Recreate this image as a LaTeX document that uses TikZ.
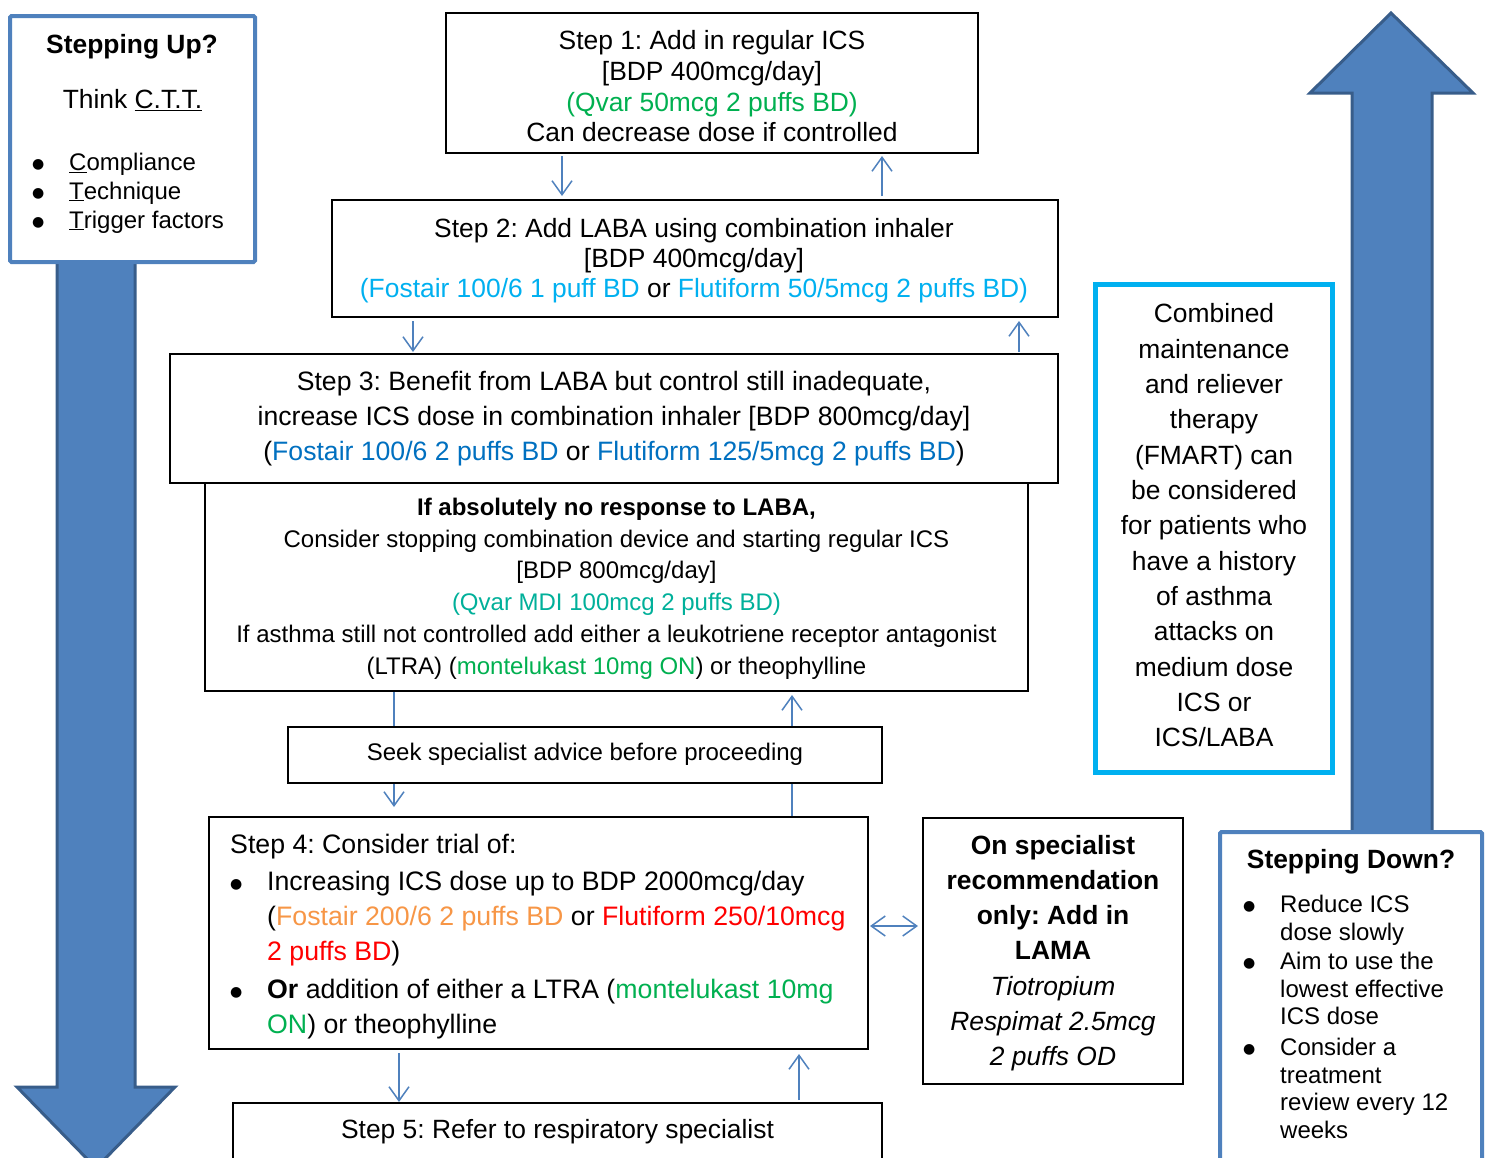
\documentclass[tikz,border=0pt]{standalone}
\usepackage{fontspec}
\setmainfont{Liberation Sans}
\newfontfamily\symfont{DejaVu Sans}
\usetikzlibrary{arrows.meta}
\definecolor{cblue}{HTML}{4F81BD}
\definecolor{cdark}{HTML}{385D8A}
\definecolor{ccyan}{HTML}{00B0F0}
\definecolor{cgreen}{HTML}{00B050}
\definecolor{cblueb}{HTML}{0070C0}
\definecolor{corange}{HTML}{F79646}
\definecolor{cred}{HTML}{FF0000}
\definecolor{cteal}{HTML}{00B09A}
\newcommand{\bul}{\raisebox{2.2pt}[0pt][0pt]{\symfont\fontsize{14pt}{14pt}\selectfont ●}}
\begin{document}
\frenchspacing
\begin{tikzpicture}[x=1pt,y=-1pt,
  box/.style={draw=black,line width=2pt,fill=white,inner sep=0pt,rectangle},
  sidebox/.style={draw=cblue,line width=4pt,fill=white,inner sep=0pt,rectangle,rounded corners=1.5pt},
  fmbox/.style={draw=ccyan,line width=5pt,fill=white,inner sep=0pt,rectangle},
  bigarrow/.style={fill=cblue,draw=cdark,line width=3pt,line join=miter},
  conn/.style={draw=cblue,line width=1.5pt},
  arr/.style={conn,-{Straight Barb[length=14pt,width=20pt]}},
  darr/.style={conn,{Straight Barb[length=14pt,width=20pt]}-{Straight Barb[length=14pt,width=20pt]}},
  txt/.style={inner sep=0pt,align=center},
]
\useasboundingbox (0,0) rectangle (1489,1157);
\clip (0,0) rectangle (1489,1157);

% big arrows
\draw[bigarrow] (57,250) -- (135,250) -- (135,1087) -- (175,1087) -- (96,1168) -- (17,1087) -- (57,1087) -- cycle;
\draw[bigarrow] (1352,845) -- (1352,93) -- (1310,93) -- (1391,13) -- (1473,93) -- (1432,93) -- (1432,845) -- cycle;

% side boxes
\node[sidebox,minimum width=245pt,minimum height=246pt] (up) at (132.5,139) {};
\node[txt,font=\bfseries\fontsize{26.4pt}{30pt}\selectfont] (uptitle) at (132,46.5) {Stepping Up?};
\node[txt,font=\fontsize{26.4pt}{30pt}\selectfont] (upthink) at (132.5,100) {Think \underline{C.T.T.}};
\node[txt,align=left,anchor=west,font=\fontsize{24pt}{29pt}\selectfont] (uplist) at (32,193) {%
\makebox[37pt][l]{\bul}\underline{C}ompliance\\
\makebox[37pt][l]{\bul}\underline{T}echnique\\
\makebox[37pt][l]{\bul}\underline{T}rigger factors};

\node[sidebox,minimum width=262pt,minimum height=338pt] (down) at (1351,1001) {};
\node[txt,font=\bfseries\fontsize{26.4pt}{30pt}\selectfont] (downtitle) at (1351,862) {Stepping Down?};
\node[txt,align=left,anchor=west,font=\fontsize{24pt}{27.6pt}\selectfont] (downlist) at (1243,1017) {%
\makebox[37pt][l]{\bul}Reduce ICS\\
\hspace*{37pt}dose slowly\\[1.5pt]
\makebox[37pt][l]{\bul}Aim to use the\\
\hspace*{37pt}lowest effective\\
\hspace*{37pt}ICS dose\\[3pt]
\makebox[37pt][l]{\bul}Consider a\\
\hspace*{37pt}treatment\\
\hspace*{37pt}review every 12\\
\hspace*{37pt}weeks};

\node[fmbox,minimum width=237pt,minimum height=488pt] (fm) at (1214,528) {};
\node[txt,font=\fontsize{26.4pt}{35.33pt}\selectfont] (fmt) at (1214,525.5) {Combined\\maintenance\\and reliever\\therapy\\(FMART) can\\be considered\\for patients who\\have a history\\of asthma\\attacks on\\medium dose\\ICS or\\ICS/LABA};

% step boxes
\node[box,minimum width=532pt,minimum height=140pt] (s1) at (712,83) {};
\node[txt,font=\fontsize{26.4pt}{30.67pt}\selectfont] (s1t) at (712,86.5) {Step 1: Add in regular ICS\\{[}BDP 400mcg/day{]}\\\textcolor{cgreen}{(Qvar 50mcg 2 puffs BD)}\\Can decrease dose if controlled};

\node[box,minimum width=726pt,minimum height=117pt] (s2) at (695,258.5) {};
\node[txt,font=\fontsize{26.4pt}{30pt}\selectfont] (s2t) at (694,260.5) {Step 2: Add LABA using combination inhaler\\{[}BDP 400mcg/day{]}\\\textcolor{ccyan}{(Fostair 100/6 1 puff BD} or \textcolor{ccyan}{Flutiform 50/5mcg 2 puffs BD)}};

\node[box,minimum width=888pt,minimum height=129pt] (s3) at (614,418.5) {};
\node[txt,font=\fontsize{26.6pt}{35pt}\selectfont] (s3t) at (614,418.5) {Step 3: Benefit from LABA but control still inadequate,\\increase ICS dose in combination inhaler {[}BDP 800mcg/day{]}\\(\textcolor{cblueb}{Fostair 100/6 2 puffs BD} or \textcolor{cblueb}{Flutiform 125/5mcg 2 puffs BD})};

\node[box,minimum width=823pt,minimum height=208pt] (nr) at (616.5,587) {};
\node[txt,font=\fontsize{24pt}{31.8pt}\selectfont] (nrt) at (616.5,588.5) {\textbf{If absolutely no response to LABA,}\\Consider stopping combination device and starting regular ICS\\{[}BDP 800mcg/day{]}\\\textcolor{cteal}{(Qvar MDI 100mcg 2 puffs BD)}\\If asthma still not controlled add either a leukotriene receptor antagonist\\(LTRA) (\textcolor{cgreen}{montelukast 10mg ON}) or theophylline};

\node[box,minimum width=594pt,minimum height=56pt] (seek) at (585,755) {};
\node[txt,font=\fontsize{24pt}{29pt}\selectfont] (seekt) at (585,754) {Seek specialist advice before proceeding};

\node[box,minimum width=659pt,minimum height=232pt] (s4) at (538.5,933) {};
\node[txt,align=left,anchor=west,font=\fontsize{26.7pt}{35pt}\selectfont] (s4t) at (230,936.5) {Step 4: Consider trial of:\\[2pt]
\makebox[37pt][l]{\bul}Increasing ICS dose up to BDP 2000mcg/day\\
\hspace*{37pt}(\textcolor{corange}{Fostair 200/6 2 puffs BD} or \textcolor{cred}{Flutiform 250/10mcg}\\
\hspace*{37pt}\textcolor{cred}{2 puffs BD})\\[3pt]
\makebox[37pt][l]{\bul}\textbf{Or} addition of either a LTRA (\textcolor{cgreen}{montelukast 10mg}\\
\hspace*{37pt}\textcolor{cgreen}{ON}) or theophylline};

\node[box,minimum width=260pt,minimum height=266pt] (spec) at (1053,951) {};
\node[txt,font=\fontsize{26.4pt}{35.17pt}\selectfont] (spect) at (1053,953) {\textbf{On specialist}\\\textbf{recommendation}\\\textbf{only: Add in}\\\textbf{LAMA}\\\textit{Tiotropium}\\\textit{Respimat 2.5mcg}\\\textit{2 puffs OD}};

\node[box,minimum width=649pt,minimum height=67pt] (s5) at (557.5,1136.5) {};
\node[txt,font=\fontsize{26.4pt}{30pt}\selectfont] (s5t) at (557.5,1131.5) {Step 5: Refer to respiratory specialist};

% connector x positions
\coordinate (xa) at (562,0);
\coordinate (xb) at (882,0);
\coordinate (xc) at (413,0);
\coordinate (xd) at (1019,0);
\coordinate (xe) at (394,0);
\coordinate (xf) at (792,0);
\coordinate (xg) at (399,0);
\coordinate (xh) at (799,0);
\coordinate (yd) at (0,926);

\draw[arr,shorten <=2pt,shorten >=3pt] (s1.south -| xa) -- (s2.north -| xa);
\draw[arr,shorten <=3pt,shorten >=2pt] (s2.north -| xb) -- (s1.south -| xb);
\draw[arr,shorten <=3pt,shorten >=1pt] (s2.south -| xc) -- (s3.north -| xc);
\draw[arr,shorten <=1pt,shorten >=3pt] (s3.north -| xd) -- (s2.south -| xd);
\draw[conn] (nr.south -| xe) -- (seek.north -| xe);
\draw[arr,shorten >=9pt] (seek.south -| xe) -- (s4.north -| xe);
\draw[conn] (s4.north -| xf) -- (seek.south -| xf);
\draw[arr,shorten >=3pt] (seek.north -| xf) -- (nr.south -| xf);
\draw[arr,shorten <=3pt] (s4.south -| xg) -- (s5.north -| xg);
\draw[arr,shorten <=2pt,shorten >=4pt] (s5.north -| xh) -- (s4.south -| xh);
\draw[darr,shorten <=1pt,shorten >=4pt] (s4.east |- yd) -- (spec.west |- yd);
\end{tikzpicture}
\end{document}
